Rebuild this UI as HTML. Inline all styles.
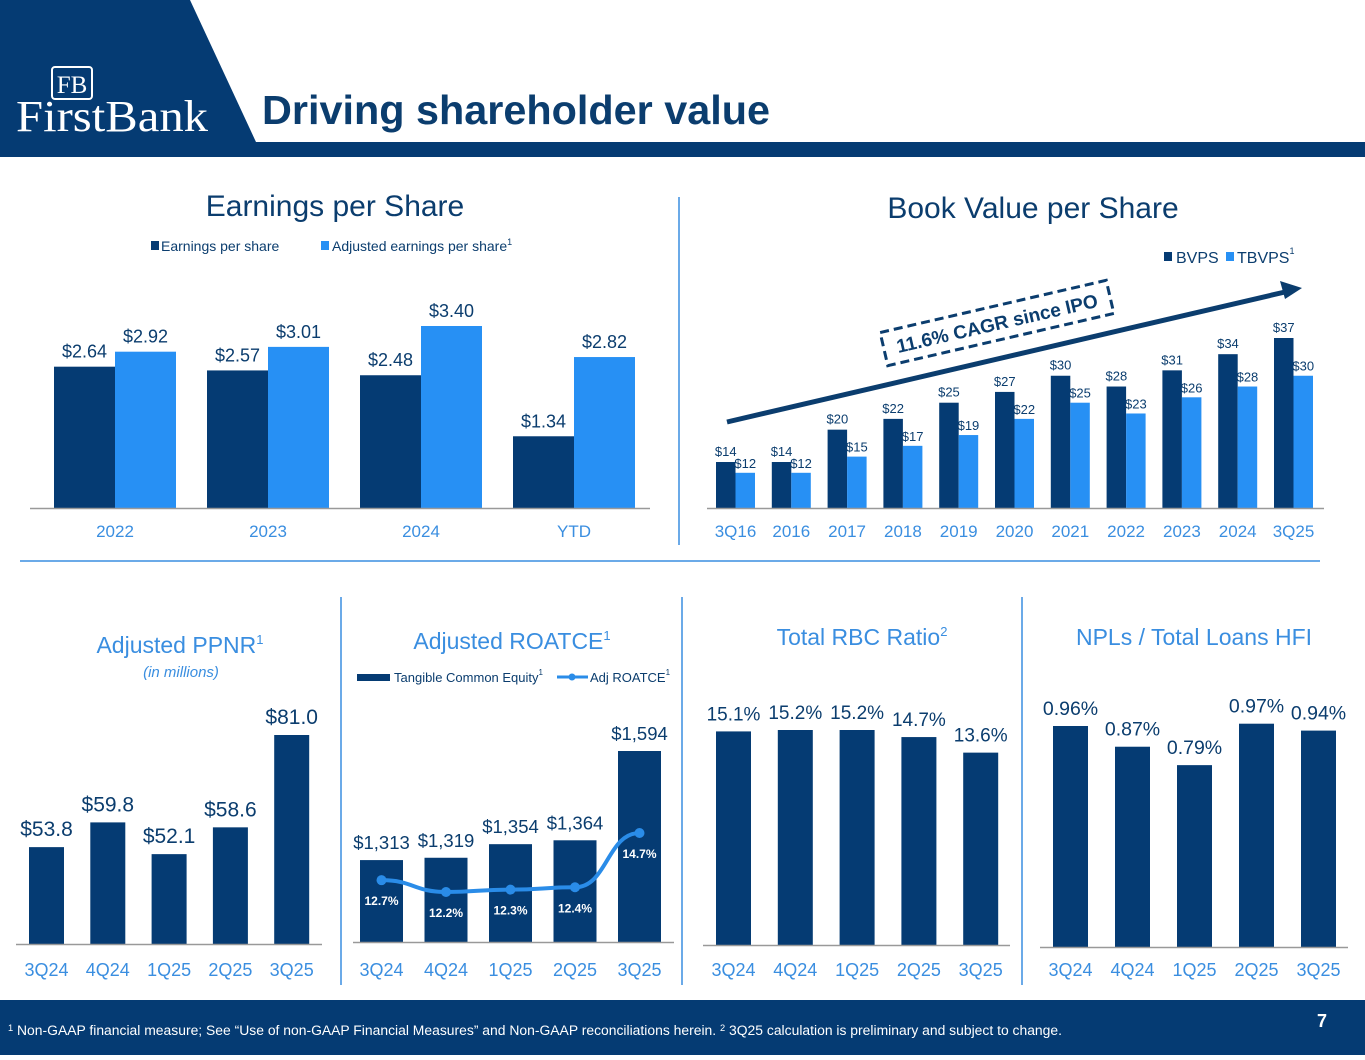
<!DOCTYPE html>
<html><head><meta charset="utf-8">
<style>
html,body{margin:0;padding:0;background:#fff;}
body{width:1365px;height:1055px;overflow:hidden;font-family:"Liberation Sans",Arial,sans-serif;}
svg text{font-family:"Liberation Sans",Arial,sans-serif;}
</style></head>
<body>
<svg id="s" width="1365" height="1055" viewBox="0 0 1365 1055" xmlns="http://www.w3.org/2000/svg">
  <polygon points="0,0 190,0 256,142 0,142" fill="#053b73"/>
  <rect x="0" y="142" width="1365" height="15" fill="#053b73"/>
  <g>
    <rect x="52" y="67" width="40" height="32" rx="3" fill="none" stroke="#fff" stroke-width="2"/>
    <text x="72" y="93" text-anchor="middle" font-size="25" fill="#fff" style="font-family:'Liberation Serif',serif">FB</text>
    <text x="16" y="131" font-size="44" fill="#fff" textLength="192" lengthAdjust="spacingAndGlyphs" style="font-family:'Liberation Serif',serif">FirstBank</text>
  </g>
  <text x="262" y="124" font-size="41" font-weight="bold" fill="#0b3d6e" textLength="508" lengthAdjust="spacingAndGlyphs">Driving shareholder value</text>

  <line x1="679" y1="197" x2="679" y2="545" stroke="#3a8ee0" stroke-width="1.5"/>
  <line x1="20" y1="561" x2="1320" y2="561" stroke="#3a8ee0" stroke-width="1.5"/>
  <line x1="341" y1="597" x2="341" y2="985" stroke="#3a8ee0" stroke-width="1.5"/>
  <line x1="682" y1="597" x2="682" y2="985" stroke="#3a8ee0" stroke-width="1.5"/>
  <line x1="1022" y1="597" x2="1022" y2="985" stroke="#3a8ee0" stroke-width="1.5"/>

  <text x="335" y="216" text-anchor="middle" font-size="30" fill="#0b3d6e">Earnings per Share</text>
  <g>
    <rect x="151" y="241" width="8" height="9" fill="#053b73"/>
    <text x="161" y="251" font-size="14" fill="#0b3d6e">Earnings per share</text>
    <rect x="321" y="241" width="8" height="9" fill="#2790f4"/>
    <text x="332" y="251" font-size="14" fill="#0b3d6e">Adjusted earnings per share<tspan font-size="9" dy="-6">1</tspan></text>
  </g>

  <text x="1033" y="218" text-anchor="middle" font-size="30" fill="#0b3d6e">Book Value per Share</text>
  <g>
    <rect x="1164" y="252" width="8" height="9" fill="#053b73"/>
    <text x="1176" y="263" font-size="16" fill="#0b3d6e">BVPS</text>
    <rect x="1226" y="252" width="8" height="9" fill="#2790f4"/>
    <text x="1237" y="263" font-size="16" fill="#0b3d6e">TBVPS<tspan font-size="9" dy="-9">1</tspan></text>
  </g>

  <text x="180" y="653" text-anchor="middle" font-size="23" fill="#3a8ee0">Adjusted PPNR<tspan font-size="13" dy="-9">1</tspan></text>
  <text x="181" y="677" text-anchor="middle" font-size="15" font-style="italic" fill="#3a8ee0">(in millions)</text>
  <text x="512" y="649" text-anchor="middle" font-size="23" fill="#3a8ee0">Adjusted ROATCE<tspan font-size="13" dy="-9">1</tspan></text>
  <g>
    <rect x="357" y="674" width="33" height="7" fill="#053b73"/>
    <text x="394" y="682" font-size="13" fill="#0b3d6e">Tangible Common Equity<tspan font-size="8" dy="-7">1</tspan></text>
    <line x1="557" y1="677" x2="588" y2="677" stroke="#2a8ce8" stroke-width="3"/>
    <circle cx="572" cy="677" r="3.5" fill="#2a8ce8"/>
    <text x="590" y="682" font-size="13" fill="#0b3d6e">Adj ROATCE<tspan font-size="8" dy="-7">1</tspan></text>
  </g>
  <text x="862" y="645" text-anchor="middle" font-size="23" fill="#3a8ee0">Total RBC Ratio<tspan font-size="13" dy="-9">2</tspan></text>
  <text x="1194" y="645" text-anchor="middle" font-size="23" fill="#3a8ee0">NPLs / Total Loans HFI</text>

  <g id="charts"></g>

  <g>
    <line x1="727" y1="422" x2="1285" y2="292" stroke="#0b3d6e" stroke-width="5"/>
    <polygon points="1302,288 1280,281 1285,299" fill="#0b3d6e"/>
    <g transform="translate(997,323) rotate(-13)">
      <rect x="-116" y="-17" width="232" height="34" fill="#fff" stroke="#0b3d6e" stroke-width="3" stroke-dasharray="9,5"/>
      <text x="0" y="7" text-anchor="middle" font-size="19" font-weight="bold" fill="#0b3d6e">11.6% CAGR since IPO</text>
    </g>
  </g>

  <rect x="0" y="1000" width="1365" height="55" fill="#053b73"/>
  <text x="8" y="1035" font-size="13.5" fill="#fff" textLength="1054" lengthAdjust="spacingAndGlyphs"><tspan font-size="9" dy="-4">1</tspan><tspan dy="4"> Non-GAAP financial measure; See “Use of non-GAAP Financial Measures” and Non-GAAP reconciliations herein. </tspan><tspan font-size="9" dy="-4">2</tspan><tspan dy="4"> 3Q25 calculation is preliminary and subject to change.</tspan></text>
  <text x="1322" y="1027" text-anchor="middle" font-size="18" font-weight="bold" fill="#fff">7</text>
</svg>
<script>
const epsCats = ["2022","2023","2024","YTD"];
const epsValues = [2.64,2.57,2.48,1.34];
const adjEpsValues = [2.92,3.01,3.40,2.82];
const bvCats = ["3Q16","2016","2017","2018","2019","2020","2021","2022","2023","2024","3Q25"];
const bvpsValues = [14,14,20,22,25,27,30,28,31,34,37];
const tbvpsValues = [12,12,15,17,19,22,25,23,26,28,30];
const qCats = ["3Q24","4Q24","1Q25","2Q25","3Q25"];
const ppnrValues = [53.8,59.8,52.1,58.6,81.0];
const tceValues = [1313,1319,1354,1364,1594];
const roatceValues = [12.7,12.2,12.3,12.4,14.7];
const rbcValues = [15.1,15.2,15.2,14.7,13.6];
const nplValues = [0.96,0.87,0.79,0.97,0.94];

const NS="http://www.w3.org/2000/svg";
const root=document.getElementById('charts');
const DARK="#053b73", LIGHT="#2790f4", LBL="#3a8ee0", TXT="#0b3d6e";
function mk(tag,attrs,parent){const e=document.createElementNS(NS,tag);for(const k in attrs)e.setAttribute(k,attrs[k]);(parent||root).appendChild(e);return e;}
function txt(x,y,s,size,fill,parent,extra){const t=mk('text',Object.assign({x:x,y:y,'text-anchor':'middle','font-size':size,fill:fill},extra||{}),parent);t.textContent=s;return t;}
function scale(min,max,base,top){return v=>base-(v-min)/(max-min)*(base-top);}

// EPS
(function(){
  const g=mk('g',{});
  
  
  const y=scale(0,3.40,508,326);
  const x0=54,step=153,bw=61;
  epsCats.forEach((c,i)=>{
    const x=x0+i*step;
    const r1=mk('rect',{x:x,y:y(epsValues[i]),width:bw,height:508-y(epsValues[i]),fill:DARK},g);
    
    
    const r2=mk('rect',{x:x+bw,y:y(adjEpsValues[i]),width:bw,height:508-y(adjEpsValues[i]),fill:LIGHT},g);
    
    
    txt(x+bw/2,y(epsValues[i])-9,'$'+epsValues[i].toFixed(2),18,TXT,g);
    txt(x+bw*1.5,y(adjEpsValues[i])-9,'$'+adjEpsValues[i].toFixed(2),18,TXT,g);
    const l=txt(x+bw,537,c,17,LBL,g);
    
    
  });
  mk('line',{x1:30,y1:508.5,x2:650,y2:508.5,stroke:'#999','stroke-width':1.5},g);
})();

// BVPS
(function(){
  const g=mk('g',{});
  
  
  const y=scale(5.47,37,508,338);
  const x0=716,step=55.8,bw=19.5;
  bvCats.forEach((c,i)=>{
    const x=x0+i*step;
    const r1=mk('rect',{x:x,y:y(bvpsValues[i]),width:bw,height:508-y(bvpsValues[i]),fill:DARK},g);
    
    
    const r2=mk('rect',{x:x+bw,y:y(tbvpsValues[i]),width:bw,height:508-y(tbvpsValues[i]),fill:LIGHT},g);
    
    
    txt(x+bw/2,y(bvpsValues[i])-6,'$'+bvpsValues[i],13,TXT,g);
    txt(x+bw*1.5,y(tbvpsValues[i])-5,'$'+tbvpsValues[i],13,TXT,g);
    const l=txt(x+bw,537,c,17,LBL,g);
    
    
  });
  mk('line',{x1:707,y1:508.5,x2:1324,y2:508.5,stroke:'#999','stroke-width':1.5},g);
})();

function qChart(name,vals,min,max,base,top,x0,step,bw,fmt,axisX1,axisX2,labelY,fs){
  const g=mk('g',{});
  
  
  const y=scale(min,max,base,top);
  qCats.forEach((c,i)=>{
    const x=x0+i*step;
    const r=mk('rect',{x:x,y:y(vals[i]),width:bw,height:base-y(vals[i]),fill:DARK},g);
    
    
    txt(x+bw/2,y(vals[i])-11,fmt(vals[i]),fs,TXT,g);
    const l=txt(x+bw/2,labelY,c,18,LBL,g);
    
    
  });
  mk('line',{x1:axisX1,y1:base+0.5,x2:axisX2,y2:base+0.5,stroke:'#999','stroke-width':1.5},g);
  return g;
}
qChart('ppnr-chart',ppnrValues,30.3,81,944,735,29,61.3,35,v=>'$'+v.toFixed(1),16,322,976,21);
const rg=qChart('roatce-chart',tceValues,1102,1594,942,751,360,64.5,43,v=>'$'+v.toLocaleString('en-US'),353,674,976,18.5);
qChart('rbc-chart',rbcValues,0,15.2,945,730,716,61.8,35,v=>v.toFixed(1)+'%',703,1010,976,19);
qChart('npl-chart',nplValues,0,0.96,947,726,1053,62,35,v=>v.toFixed(2)+'%',1040,1348,976,19.5);

// ROATCE line
(function(){
  const y=scale(10.08,14.7,942,833);
  const xs=qCats.map((c,i)=>360+i*64.5+21.5);
  const pts=roatceValues.map((v,i)=>[xs[i],y(v)]);
  let d='M'+pts[0][0]+','+pts[0][1];
  for(let i=1;i<pts.length;i++){const p=pts[i-1],q=pts[i];const cx=(p[0]+q[0])/2;d+=' C'+cx+','+p[1]+' '+cx+','+q[1]+' '+q[0]+','+q[1];}
  const path=mk('path',{d:d,fill:'none',stroke:'#2a8ce8','stroke-width':4},rg);
  
  
  pts.forEach((p,i)=>{
    const c=mk('circle',{cx:p[0],cy:p[1],r:5,fill:'#2a8ce8'},rg);
    
    
    txt(p[0],p[1]+25,roatceValues[i].toFixed(1)+'%',12,'#fff',rg,{'font-weight':'bold'});
  });
})();
</script>
</body></html>
